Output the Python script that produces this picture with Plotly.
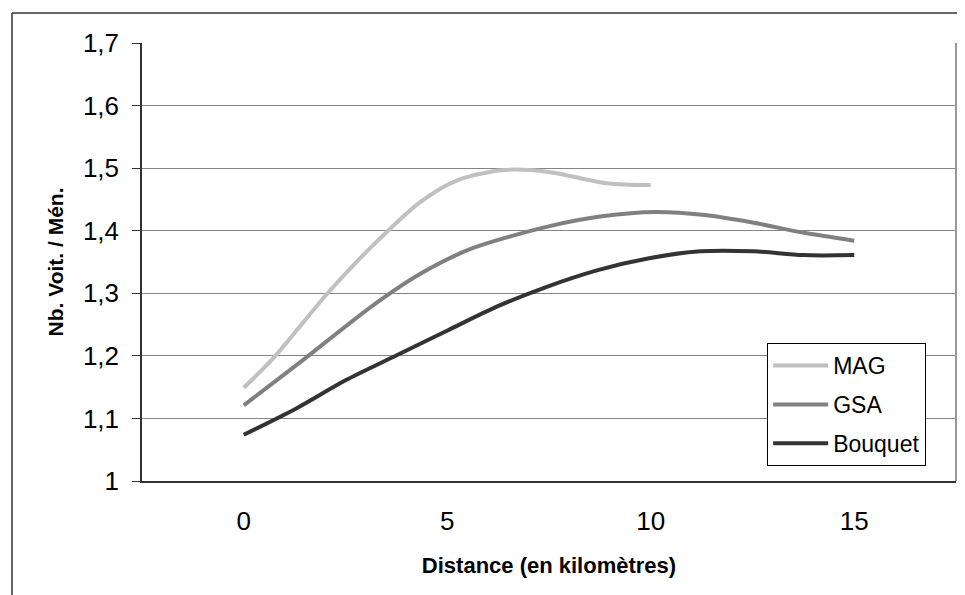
import plotly.graph_objects as go

# ---- data ----
mag_x = [0, 0.75, 2.06, 3.21, 4.36, 5.26, 6.39, 7.49, 8.9, 10]
mag_y = [1.149, 1.198, 1.300, 1.379, 1.447, 1.481, 1.497, 1.494, 1.476, 1.473]

gsa_x = [0, 1.35, 3.16, 4.36, 5.62, 7.49, 8.8, 10.12, 11.33, 12.5, 13.74, 15]
gsa_y = [1.121, 1.188, 1.280, 1.332, 1.372, 1.407, 1.423, 1.430, 1.425, 1.413, 1.397, 1.384]

bq_x = [0, 1.29, 2.5, 3.76, 5.02, 6.23, 7.43, 8.7, 9.96, 11.22, 12.53, 13.74, 15]
bq_y = [1.074, 1.116, 1.161, 1.201, 1.241, 1.279, 1.310, 1.337, 1.356, 1.367, 1.367, 1.361, 1.361]

series_names = ["MAG", "GSA", "Bouquet"]
x_ticks = [0, 5, 10, 15]
y_ticks = [1.0, 1.1, 1.2, 1.3, 1.4, 1.5, 1.6, 1.7]
y_tick_text = ["1", "1,1", "1,2", "1,3", "1,4", "1,5", "1,6", "1,7"]

colors = ["#c0c0c0", "#808080", "#333333"]
FONT = "Liberation Sans, Arial, sans-serif"

fig = go.Figure()
for name, xs, ys, c in zip(series_names, [mag_x, gsa_x, bq_x], [mag_y, gsa_y, bq_y], colors):
    fig.add_trace(go.Scatter(
        x=xs, y=ys, name=name, mode="lines",
        line=dict(color=c, width=4, shape="spline", smoothing=0.8),
        legendgroup=name,
    ))

# page body has an 8px margin, so the figure is 8px smaller than the window
fig.update_layout(
    width=957, height=587,
    margin=dict(l=134, r=9, t=35, b=114),
    paper_bgcolor="white", plot_bgcolor="white",
    font=dict(family=FONT, color="black"),
    showlegend=True,
    legend=dict(
        x=0.768, y=0.315, xanchor="left", yanchor="top",
        bgcolor="white", bordercolor="black", borderwidth=1,
        font=dict(size=23, family=FONT, color="black"),
        tracegroupgap=6, traceorder="grouped",
        itemwidth=55,
    ),
    xaxis=dict(
        range=[-2.5, 17.5], tickvals=x_ticks,
        showgrid=False, zeroline=False,
        showline=True, linecolor="#333333", linewidth=2,
        ticks="", ticklabelstandoff=16,
        tickfont=dict(size=26, family=FONT),
        title=dict(text="<b>Distance (en kilomètres)</b>", font=dict(size=22, family=FONT), standoff=22),
    ),
    yaxis=dict(
        range=[1.0, 1.7], tickvals=y_ticks, ticktext=y_tick_text,
        showgrid=True, gridcolor="#858585", gridwidth=1,
        zeroline=False,
        showline=True, linecolor="#333333", linewidth=1.5,
        ticks="outside", ticklen=8, tickcolor="#333333", tickwidth=1,
        ticklabelstandoff=8,
        tickfont=dict(size=26, family=FONT),
        title=dict(text="<b>Nb. Voit. / Mén.</b>", font=dict(size=21, family=FONT), standoff=14),
    ),
    shapes=[
        # right border of plot area
        dict(type="line", xref="paper", yref="paper", x0=1, x1=1, y0=0, y1=1,
             line=dict(color="#999999", width=2)),
        # outer chart frame (top and left edges)
        dict(type="line", xref="paper", yref="paper", x0=-0.1597, x1=1.02, y0=1.0685, y1=1.0685,
             line=dict(color="#333333", width=1.5)),
        dict(type="line", xref="paper", yref="paper", x0=-0.1597, x1=-0.1597, y0=-0.3, y1=1.0685,
             line=dict(color="#333333", width=1.5)),
    ],
)

fig.write_html("out.html")
